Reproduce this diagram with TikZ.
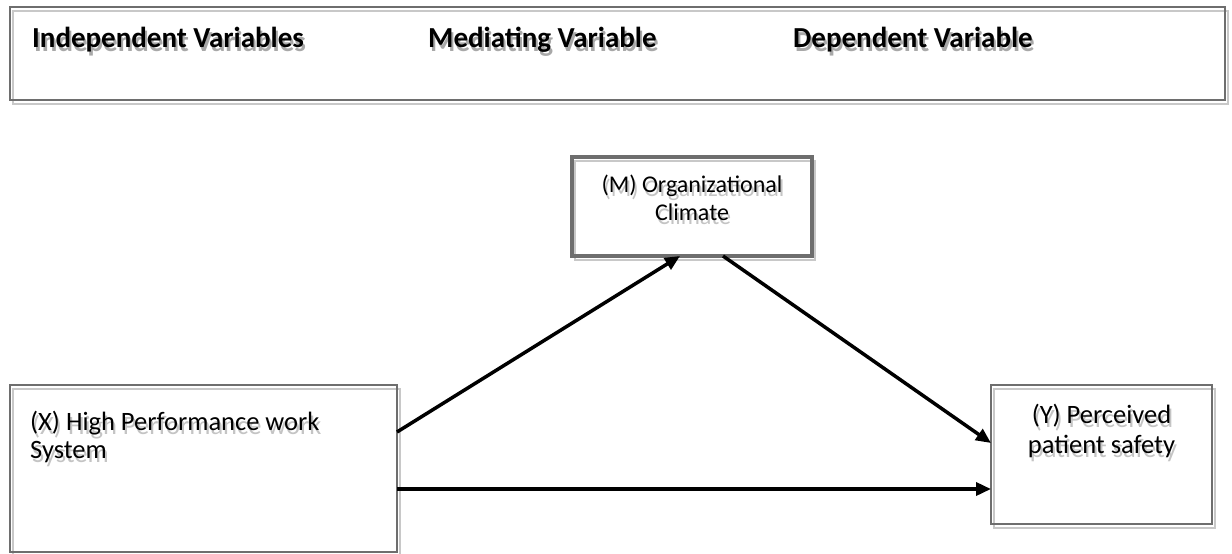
\documentclass[tikz,border=0pt]{standalone}
\usepackage{fontspec}
\setmainfont{Carlito}
\usetikzlibrary{arrows.meta}

\definecolor{boxline}{HTML}{6E6E6E}
\definecolor{boxshade}{HTML}{C8C8C8}
\definecolor{txtshade}{HTML}{C4C4C4}
\definecolor{headshade}{HTML}{A8A8A8}

\tikzset{
  frame/.style={inner sep=0pt, outer sep=0pt, draw=none},
  border/.style={draw=boxline, line width=#1},
  border/.default=2pt,
  shade line/.style={draw=boxshade, line width=2pt},
  link/.style={line width=3.5pt, -{Triangle[length=15pt,width=13pt]}},
  headtext/.style={font=\fontsize{29}{35}\selectfont\bfseries, inner sep=0pt, anchor=base west},
  bodytext/.style={font=\fontsize{26.5}{32}\selectfont, inner sep=0pt, anchor=base},
  bodyleft/.style={bodytext, anchor=base west},
  smalltext/.style={font=\fontsize{24}{29}\selectfont, inner sep=0pt, anchor=base},
}

% text with a soft grey copy set slightly below and to the right
\newcommand\castlabel[5]{%
  \node[#2, text=#5, shift={(2,4)}] (#1-sh) at #3 {#4};
  \node[#2] (#1) at #3 {#4};
}

% framed box: light offset outline first, then the dark frame
\newcommand\drawvarbox[2]{%
  \draw[shade line] ([shift={(3,4)}]#1.north west) rectangle ([shift={(3,4)}]#1.south east);
  \draw[border=#2] (#1.north west) rectangle (#1.south east);
}

\begin{document}
\begin{tikzpicture}[x=1pt,y=-1pt]
  \path[use as bounding box, fill=white] (0,0) rectangle (1232,554);

  % box outlines
  \node[frame, minimum width=1215pt, minimum height=93pt] (head) at (617.5,53.5) {};
  \node[frame, minimum width=240pt, minimum height=99pt] (M) at (692,206.5) {};
  \node[frame, minimum width=387pt, minimum height=167pt] (X) at (203.5,468.5) {};
  \node[frame, minimum width=221pt, minimum height=139pt] (Y) at (1101.5,454.5) {};

  \drawvarbox{head}{2pt}
  \drawvarbox{M}{3.5pt}
  \drawvarbox{X}{2pt}
  \drawvarbox{Y}{2.5pt}

  % column headings
  \castlabel{indep}{headtext}{(32,47)}{Independent Variables}{headshade}
  \castlabel{medi}{headtext}{(428,47)}{Mediating Variable}{headshade}
  \castlabel{dep}{headtext}{(793,47)}{Dependent Variable}{headshade}

  % box texts
  \castlabel{m1}{smalltext}{(692,192)}{(M) Organizational}{txtshade}
  \castlabel{m2}{smalltext}{(692,220)}{Climate}{txtshade}
  \castlabel{x1}{bodyleft}{(30,430)}{(X) High Performance work}{txtshade}
  \castlabel{x2}{bodyleft}{(30,458)}{System}{txtshade}
  \castlabel{y1}{bodytext}{(1101.5,423)}{(Y) Perceived}{txtshade}
  \castlabel{y2}{bodytext}{(1101.5,453)}{patient safety}{txtshade}

  % paths between the variables
  \draw[link] ([yshift=36.5pt]X.east) -- ([xshift=-12pt]M.south);
  \draw[link] ([xshift=31pt]M.south) -- ([yshift=11.5pt]Y.west);
  \draw[link] ([yshift=-20.5pt]X.east) -- ([yshift=-34.5pt]Y.west);
\end{tikzpicture}
\end{document}
